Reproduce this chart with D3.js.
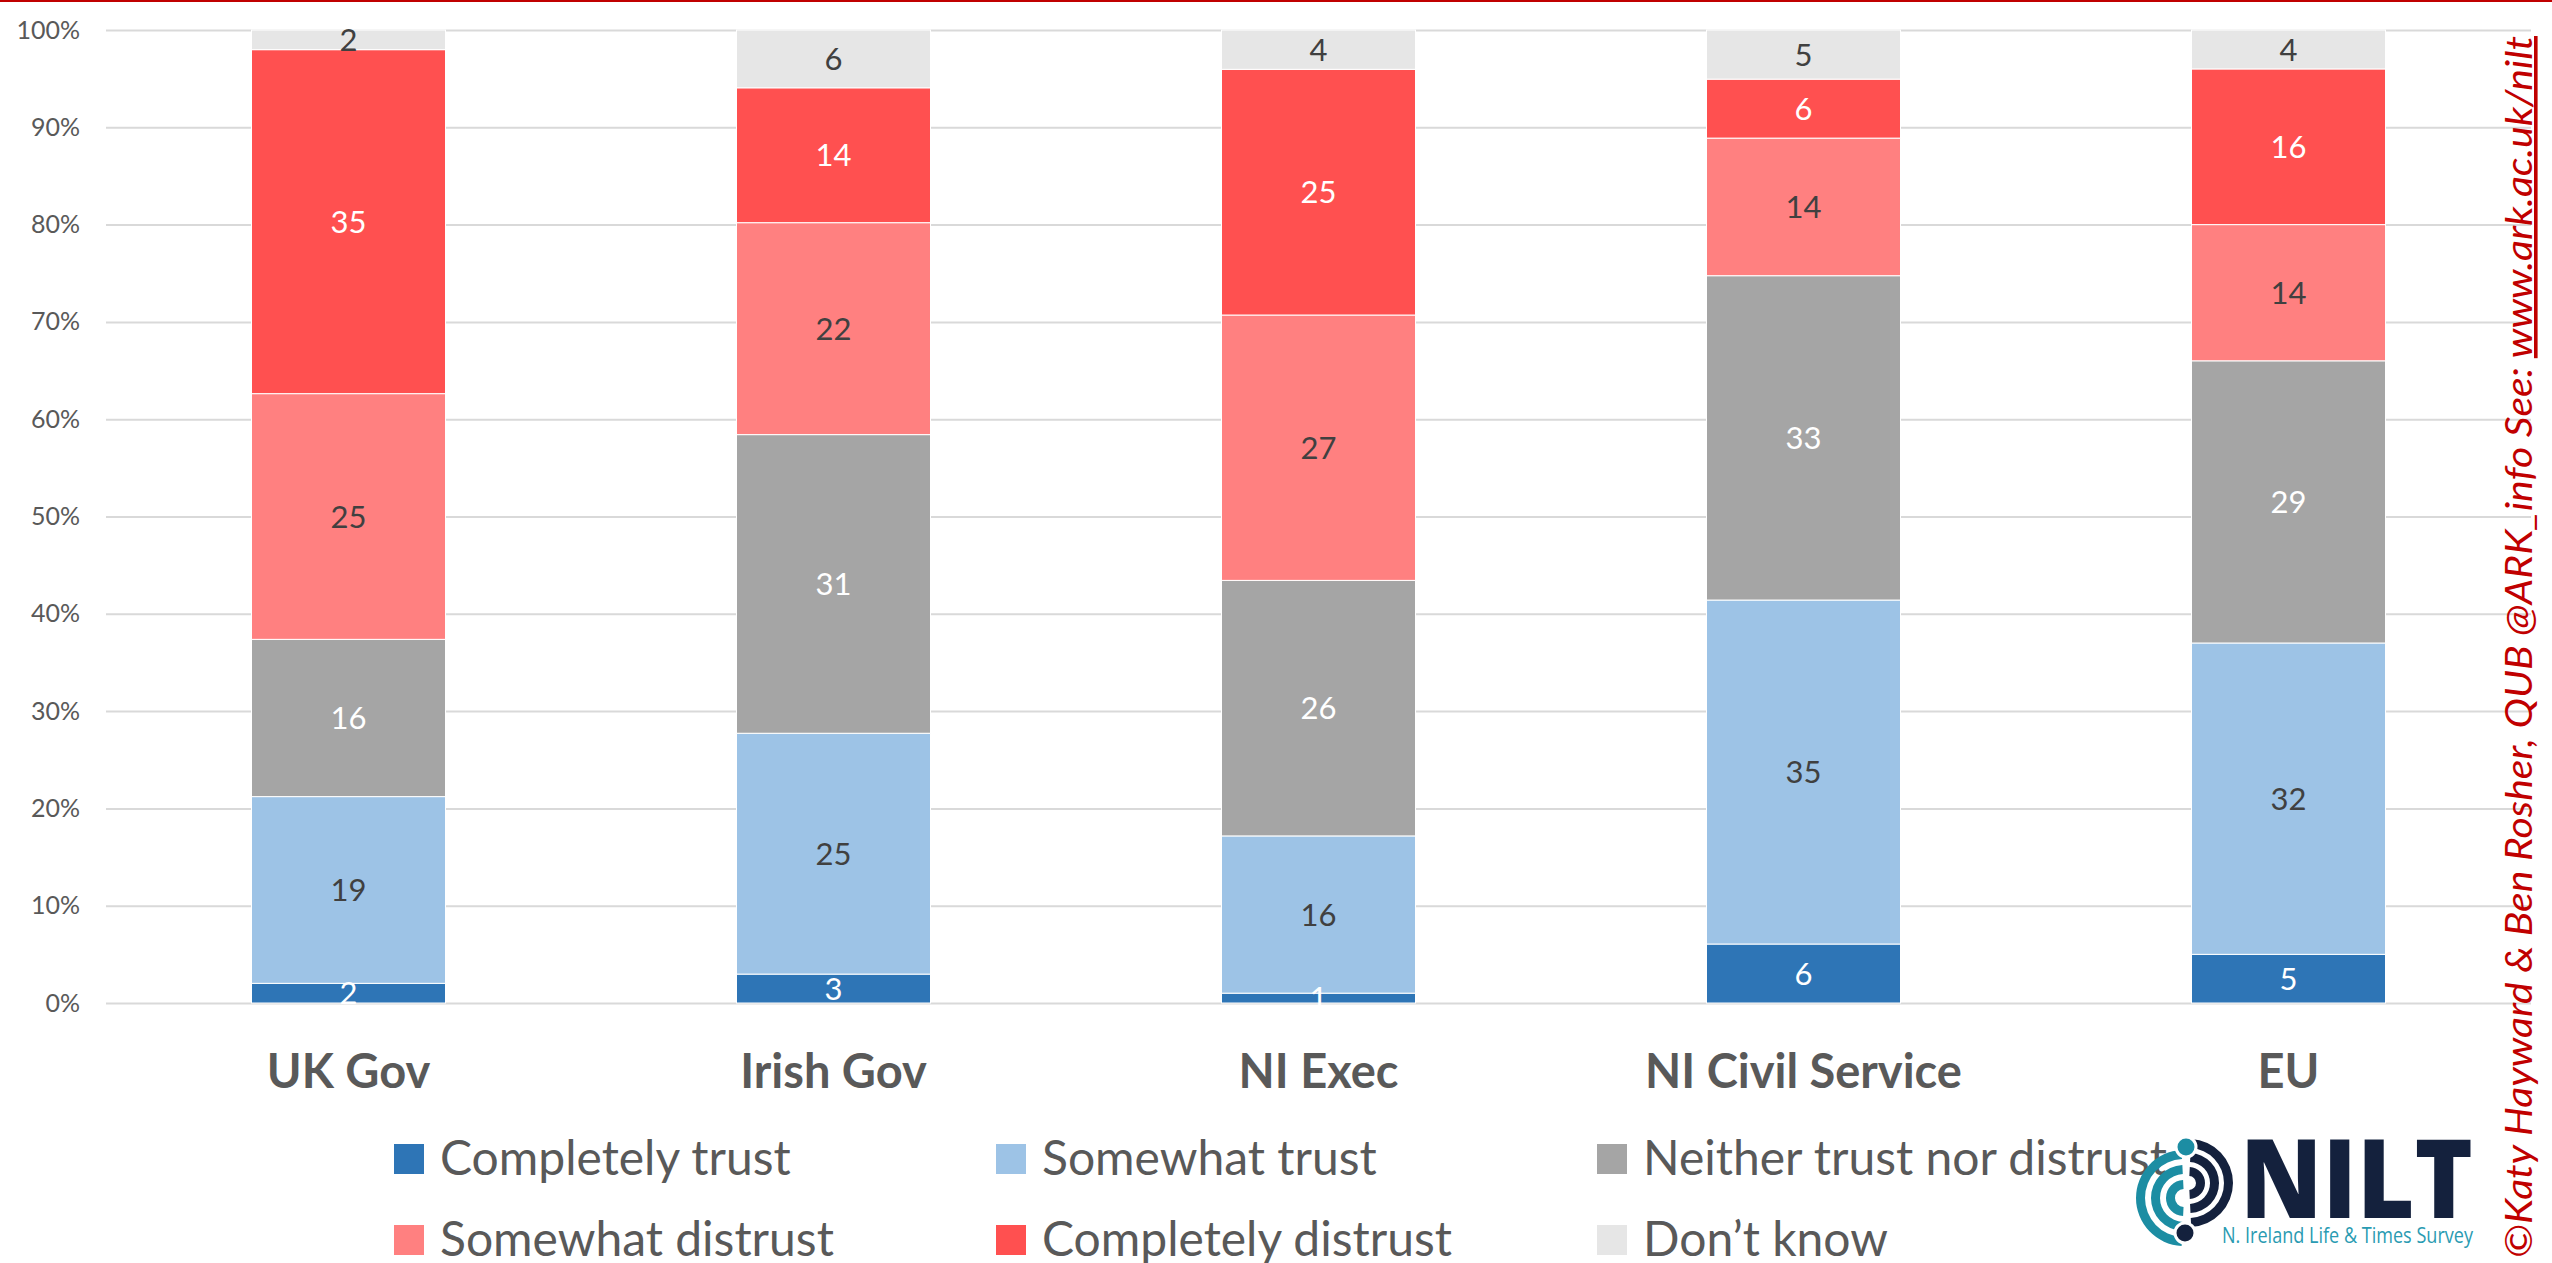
<!DOCTYPE html>
<html>
<head>
<meta charset="utf-8">
<script src="https://cdn.jsdelivr.net/npm/d3@7"></script>
<style>
  body { margin: 0; background: #fff; }
  svg { display: block; }
</style>
</head>
<body>
<svg id="chart" width="2552" height="1263"></svg>
<script>
// data (percent, as labelled)
const categories = ["UK Gov", "Irish Gov", "NI Exec", "NI Civil Service", "EU"];
const seriesNames = ["Completely trust", "Somewhat trust", "Neither trust nor distrust",
                     "Somewhat distrust", "Completely distrust", "Don\u2019t know"];
const completelyTrust    = [2, 3, 1, 6, 5];
const somewhatTrust      = [19, 25, 16, 35, 32];
const neitherTrust       = [16, 31, 26, 33, 29];
const somewhatDistrust   = [25, 22, 27, 14, 14];
const completelyDistrust = [35, 14, 25, 6, 16];
const dontKnow           = [2, 6, 4, 5, 4];
const yTicks = [0, 0.1, 0.2, 0.3, 0.4, 0.5, 0.6, 0.7, 0.8, 0.9, 1];

const seriesValues = [completelyTrust, somewhatTrust, neitherTrust, somewhatDistrust, completelyDistrust, dontKnow];
const colors = ["#2E75B6", "#9DC3E6", "#A5A5A5", "#FF8080", "#FF5050", "#E6E6E6"];
const labelColors = ["#ffffff", "#404040", "#ffffff", "#404040", "#ffffff", "#404040"];

const font = "Lato, 'Open Sans', sans-serif";
const svg = d3.select("#chart");

// rows for d3.stack
const rows = categories.map(function (c, i) {
    let r = { cat: c };
    seriesNames.forEach(function (s, j) { r[s] = seriesValues[j][i]; });
    return r;
});
const stacked = d3.stack().keys(seriesNames).offset(d3.stackOffsetExpand)(rows);

const x = d3.scaleBand()
    .domain(categories)
    .range([106, 2531])
    .paddingInner(0.6)
    .paddingOuter(0.3);

const y = d3.scaleLinear()
    .domain([0, 1])
    .range([1003, 30]);

// red rule at the very top
svg.append("rect")
    .attr("x", 0).attr("y", 0)
    .attr("width", 2552).attr("height", 2)
    .attr("fill", "#C00000");

// y axis + gridlines
let yAxis = svg.append("g")
    .attr("transform", "translate(106,0)")
    .call(d3.axisLeft(y).tickValues(yTicks).tickFormat(d3.format(".0%"))
        .tickSize(-(2531 - 106)).tickPadding(26));
yAxis.select(".domain").remove();
yAxis.selectAll(".tick line").attr("stroke", "#D9D9D9").attr("stroke-width", 2);
yAxis.selectAll(".tick text")
    .attr("fill", "#595959")
    .style("font-family", font)
    .style("font-size", "25px");

// bars
let layers = svg.append("g").selectAll("g")
    .data(stacked)
    .join("g")
    .attr("fill", function (d, i) { return colors[i]; });

layers.selectAll("rect")
    .data(function (d) { return d; })
    .join("rect")
    .attr("x", function (d) { return x(d.data.cat); })
    .attr("y", function (d) { return y(d[1]); })
    .attr("height", function (d) { return y(d[0]) - y(d[1]); })
    .attr("width", x.bandwidth())
    .attr("stroke", "#ffffff")
    .attr("stroke-width", 1);

// data labels
let labelLayers = svg.append("g").selectAll("g")
    .data(stacked)
    .join("g")
    .attr("fill", function (d, i) { return labelColors[i]; });

labelLayers.selectAll("text")
    .data(function (d) { return d.map(function (p) { return { p: p, key: d.key }; }); })
    .join("text")
    .attr("x", function (d) { return x(d.p.data.cat) + x.bandwidth() / 2; })
    .attr("y", function (d) { return y((d.p[0] + d.p[1]) / 2); })
    .attr("dy", "0.36em")
    .attr("text-anchor", "middle")
    .style("font-family", font)
    .style("font-size", "31px")
    .text(function (d) { return d.p.data[d.key]; });

// category axis
let xAxis = svg.append("g")
    .attr("transform", "translate(0,1003)")
    .call(d3.axisBottom(x).tickSize(0));
xAxis.select(".domain").remove();
xAxis.selectAll(".tick text")
    .attr("y", 85)
    .attr("dy", null)
    .attr("fill", "#595959")
    .style("font-family", font)
    .style("font-weight", "bold")
    .style("font-size", "47px");

// legend
const legendX = [394, 996, 1597];
const legendY = [1144, 1225];
let legend = svg.append("g").selectAll("g")
    .data(seriesNames)
    .join("g")
    .attr("transform", function (d, i) {
        return "translate(" + legendX[i % 3] + "," + legendY[Math.floor(i / 3)] + ")";
    });
legend.append("rect")
    .attr("width", 30).attr("height", 30)
    .attr("fill", function (d, i) { return colors[i]; });
legend.append("text")
    .attr("x", 46).attr("y", 31)
    .attr("fill", "#595959")
    .style("font-family", font)
    .style("font-size", "48px")
    .text(function (d) { return d; });

// NILT logo
let logo = svg.append("g");
const navy = "#14213D", teal = "#1C8DA3";
[44, 30, 16].forEach(function (r) {
    logo.append("path")
        .attr("transform", "translate(2189,1183)")
        .attr("d", d3.arc()({ innerRadius: r - 9, outerRadius: r, startAngle: 0.05, endAngle: Math.PI - 0.05 }))
        .attr("fill", navy);
});
[48, 33, 18].forEach(function (r) {
    logo.append("path")
        .attr("transform", "translate(2184,1198)")
        .attr("d", d3.arc()({ innerRadius: r - 9, outerRadius: r, startAngle: Math.PI + 0.05, endAngle: 2 * Math.PI - 0.05 }))
        .attr("fill", teal);
});
logo.append("circle").attr("cx", 2186).attr("cy", 1147).attr("r", 10).attr("fill", teal)
    .attr("stroke", "#fff").attr("stroke-width", 3);
logo.append("circle").attr("cx", 2185).attr("cy", 1233).attr("r", 10).attr("fill", navy)
    .attr("stroke", "#fff").attr("stroke-width", 3);
logo.append("text")
    .attr("x", 2240).attr("y", 1218)
    .attr("textLength", 233).attr("lengthAdjust", "spacingAndGlyphs")
    .attr("fill", navy)
    .style("font-family", "'Open Sans', sans-serif")
    .style("font-weight", "800")
    .style("font-size", "110px")
    .text("NILT");
logo.append("text")
    .attr("x", 2222).attr("y", 1243)
    .attr("textLength", 251).attr("lengthAdjust", "spacingAndGlyphs")
    .attr("fill", "#2A9BB2")
    .style("font-family", "'Open Sans', sans-serif")
    .style("font-size", "21px")
    .text("N. Ireland Life & Times Survey");

// vertical credit
let credit = svg.append("text")
    .attr("transform", "translate(2532,1258) rotate(-90)")
    .attr("textLength", 1222).attr("lengthAdjust", "spacingAndGlyphs")
    .attr("fill", "#C00000")
    .style("font-family", font)
    .style("font-style", "italic")
    .style("font-size", "36px");
credit.append("tspan").text("\u00A9Katy Hayward & Ben Rosher, QUB @ARK_info See: ");
credit.append("tspan").style("text-decoration", "underline").text("www.ark.ac.uk/nilt");
</script>
</body>
</html>
